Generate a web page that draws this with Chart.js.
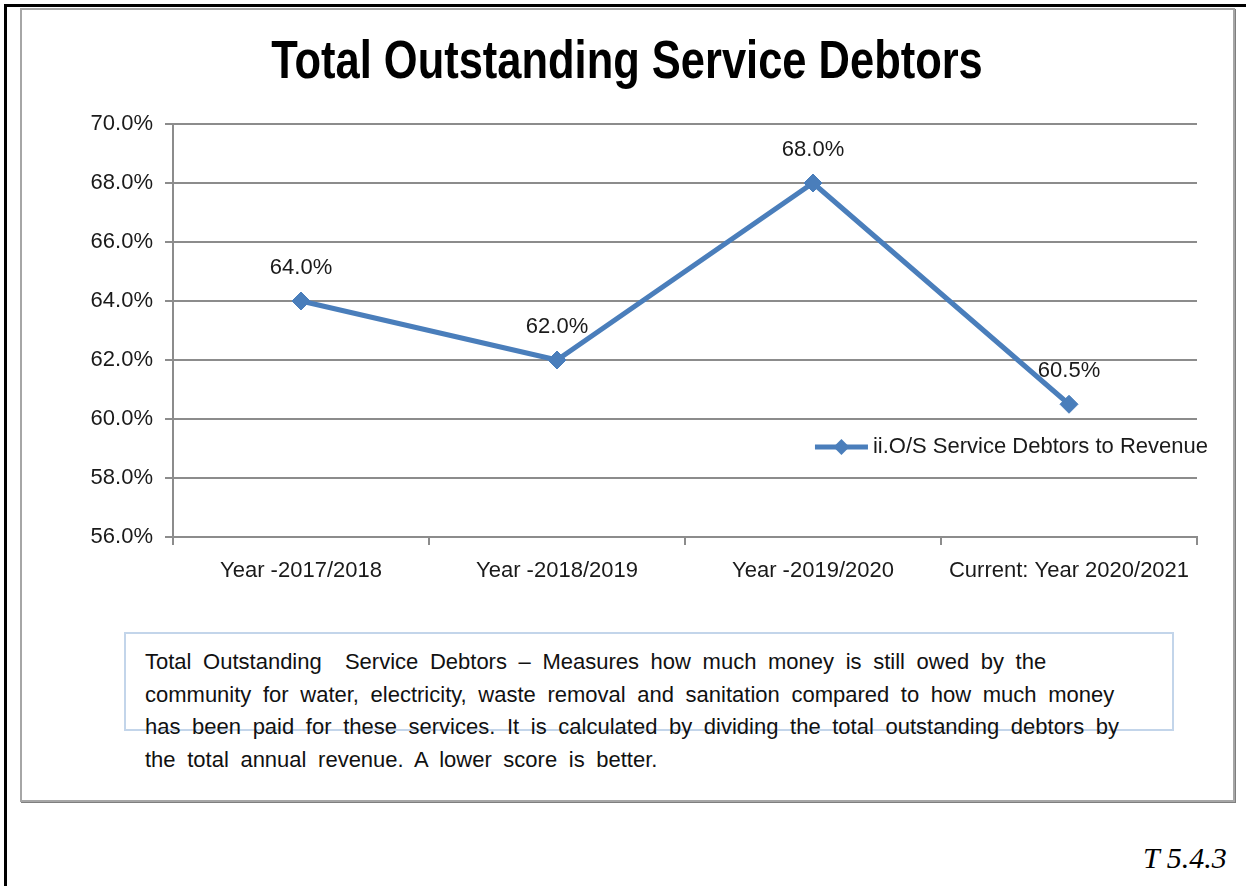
<!DOCTYPE html>
<html>
<head>
<meta charset="utf-8">
<script src="https://cdn.jsdelivr.net/npm/chart.js@4.4.1/dist/chart.umd.min.js"></script>
<style>
  html, body { margin: 0; padding: 0; background: #fff; }
  body { width: 1246px; height: 886px; position: relative; overflow: hidden; font-family: "Liberation Sans", Arial, sans-serif; }
  .page-frame { position: absolute; left: 4px; top: 4px; width: 1400px; height: 1000px; border-left: 3px solid #000; border-top: 3px solid #000; }
  .chart-frame { position: absolute; left: 20px; top: 8px; width: 1211px; height: 790px; border: 2px solid #a6a6a6; box-shadow: 1px 1px 0 #7f7f7f; }
  #chart { position: absolute; left: 22px; top: 10px; }
  .note-box { position: absolute; left: 124px; top: 632px; width: 1046px; height: 95px; border: 2px solid #c3d5ea; }
  .note { position: absolute; left: 145px; top: 646px; font-size: 22px; line-height: 32.7px; color: #111; word-spacing: 5.5px; white-space: pre; }
  .ref { position: absolute; left: 1143px; top: 841px; font-family: "Liberation Serif", "Times New Roman", serif; font-style: italic; font-size: 30px; color: #000; }
</style>
</head>
<body>
<div class="page-frame"></div>
<div class="chart-frame"></div>
<canvas id="chart" width="1210" height="600"></canvas>
<div class="note-box"></div>
<div class="note">Total Outstanding  Service Debtors – Measures how much money is still owed by the
community for water, electricity, waste removal and sanitation compared to how much money
has been paid for these services. It is calculated by dividing the total outstanding debtors by
the total annual revenue. A lower score is better.</div>
<div class="ref">T 5.4.3</div>

<script>
const years = ['Year -2017/2018', 'Year -2018/2019', 'Year -2019/2020', 'Current: Year 2020/2021'];
const debtorsToRevenue = [64.0, 62.0, 68.0, 60.5];
const seriesName = 'ii.O/S Service Debtors to Revenue';
const chartTitle = 'Total Outstanding Service Debtors';
const yMin = 56, yMax = 70, yStep = 2;

const blue = '#4a7ebb';
const gridGray = '#8c8c8c';
const textFont = '"Liberation Sans", Arial, sans-serif';

// condensed bold title (no narrow face installed, so squeeze the regular one)
const narrowTitle = {
  id: 'narrowTitle',
  afterDraw(chart) {
    const ctx = chart.ctx;
    ctx.save();
    ctx.font = 'bold 53px ' + textFont;
    ctx.fillStyle = '#000';
    ctx.textAlign = 'center';
    ctx.textBaseline = 'alphabetic';
    ctx.translate(605, 68);
    ctx.scale(0.82, 1);
    ctx.fillText(chartTitle, 0, 0);
    ctx.restore();
  }
};

// value labels above each point
const pointLabels = {
  id: 'pointLabels',
  afterDatasetsDraw(chart) {
    const ctx = chart.ctx;
    const meta = chart.getDatasetMeta(0);
    ctx.save();
    ctx.font = '22px ' + textFont;
    ctx.fillStyle = '#1a1a1a';
    ctx.textAlign = 'center';
    ctx.textBaseline = 'middle';
    meta.data.forEach((pt, i) => {
      ctx.fillText(debtorsToRevenue[i].toFixed(1) + '%', pt.x, pt.y - 33);
    });
    ctx.restore();
  }
};

// legend sits inside the plot, lower right
const insideLegend = {
  id: 'insideLegend',
  afterDraw(chart) {
    const { ctx, chartArea } = chart;
    ctx.save();
    ctx.font = '22px ' + textFont;
    const tw = ctx.measureText(seriesName).width;
    const textX = chartArea.right + 11 - tw;
    const y = chartArea.top + (chartArea.bottom - chartArea.top) * 0.782;
    const x0 = textX - 58, x1 = textX - 5;
    ctx.strokeStyle = blue;
    ctx.lineWidth = 5;
    ctx.beginPath();
    ctx.moveTo(x0, y);
    ctx.lineTo(x1, y);
    ctx.stroke();
    ctx.fillStyle = blue;
    ctx.beginPath();
    const mx = (x0 + x1) / 2, r = 8;
    ctx.moveTo(mx, y - r);
    ctx.lineTo(mx + r, y);
    ctx.lineTo(mx, y + r);
    ctx.lineTo(mx - r, y);
    ctx.closePath();
    ctx.fill();
    ctx.fillStyle = '#1a1a1a';
    ctx.textBaseline = 'middle';
    ctx.fillText(seriesName, textX, y);
    ctx.restore();
  }
};

new Chart(document.getElementById('chart'), {
  type: 'line',
  data: {
    labels: years,
    datasets: [{
      label: seriesName,
      data: debtorsToRevenue,
      borderColor: blue,
      backgroundColor: blue,
      borderWidth: 5,
      pointStyle: 'rectRot',
      pointRadius: 9,
      pointBorderWidth: 1,
      pointBorderColor: blue,
      tension: 0
    }]
  },
  options: {
    responsive: false,
    animation: false,
    layout: { padding: { left: 0, right: 35, top: 114, bottom: 0 } },
    plugins: {
      legend: { display: false },
      tooltip: { enabled: false },
      title: { display: false }
    },
    scales: {
      x: {
        offset: true,
        grid: { offset: true, drawOnChartArea: false, drawTicks: true, tickLength: 8, color: gridGray, lineWidth: 2 },
        border: { display: true, color: gridGray, width: 2 },
        ticks: { color: '#1a1a1a', font: { family: textFont, size: 22 }, padding: 13, maxRotation: 0, autoSkip: false },
        afterFit(scale) { scale.height = 73; }
      },
      y: {
        min: yMin,
        max: yMax,
        grid: { color: gridGray, lineWidth: 2, tickLength: 8 },
        border: { display: true, color: gridGray, width: 2 },
        ticks: {
          stepSize: yStep,
          color: '#1a1a1a',
          font: { family: textFont, size: 22 },
          padding: 12,
          callback: v => v.toFixed(1) + '%'
        },
        afterFit(scale) { scale.width = 151; }
      }
    }
  },
  plugins: [narrowTitle, pointLabels, insideLegend]
});
</script>
</body>
</html>
